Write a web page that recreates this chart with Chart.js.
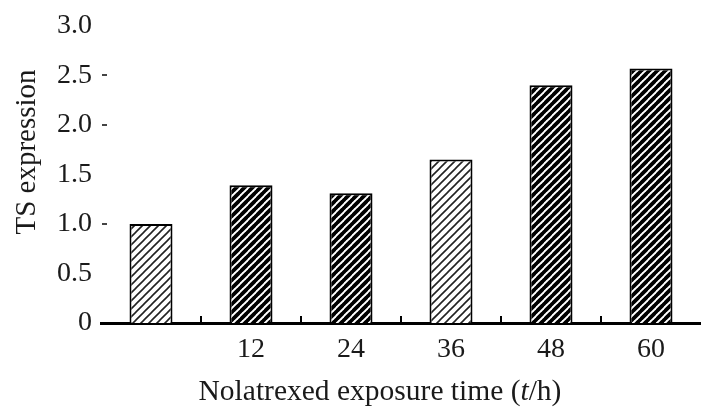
<!DOCTYPE html>
<html>
<head>
<meta charset="utf-8">
<script src="https://cdn.jsdelivr.net/npm/chart.js@4/dist/chart.umd.min.js"></script>
<style>
html, body { margin: 0; padding: 0; background: #fff; }
#wrap { width: 701px; height: 413px; position: relative; }
</style>
</head>
<body>
<div id="wrap"><canvas id="tsChart"></canvas></div>
<script>
// values
const hours = ['', '12', '24', '36', '48', '60'];
const tsExpression = [1.0, 1.39, 1.31, 1.65, 2.40, 2.57];
const hatchKind = ['light', 'dense', 'dense', 'light', 'dense', 'dense'];
const yMin = 0;
const yMax = 3.0;
const yStep = 0.5;
// the few y tick marks still visible in the original
const yDashTicks = [1.0, 2.0, 2.5];

const FONT = '"Liberation Serif", "Times New Roman", serif';

// diagonal hatching, "/" direction
function makeHatch(kind) {
    const size = 8;
    const c = document.createElement('canvas');
    c.width = size;
    c.height = size;
    const g = c.getContext('2d');
    g.fillStyle = '#fff';
    g.fillRect(0, 0, size, size);
    g.strokeStyle = kind === 'dense' ? '#000' : '#222';
    g.lineWidth = kind === 'dense' ? 3.8 : 1.6;
    g.beginPath();
    g.moveTo(-1, size + 1); g.lineTo(size + 1, -1);
    g.moveTo(-1, 1); g.lineTo(1, -1);
    g.moveTo(size - 1, size + 1); g.lineTo(size + 1, size - 1);
    g.stroke();
    return g.createPattern(c, 'repeat');
}

const extras = {
    id: 'extras',
    afterDraw(chart) {
        const ctx = chart.ctx;
        const x = chart.scales.x;
        const y = chart.scales.y;
        const area = chart.chartArea;
        ctx.save();
        // small upward ticks between the categories
        ctx.strokeStyle = '#000';
        ctx.lineWidth = 2;
        for (let i = 1; i < hours.length; i++) {
            const px = Math.round((x.getPixelForValue(i - 1) + x.getPixelForValue(i)) / 2);
            ctx.beginPath();
            ctx.moveTo(px, area.bottom);
            ctx.lineTo(px, area.bottom - 7);
            ctx.stroke();
        }
        ctx.strokeStyle = '#444';
        yDashTicks.forEach(v => {
            const py = Math.round(y.getPixelForValue(v));
            ctx.beginPath();
            ctx.moveTo(area.left + 1, py);
            ctx.lineTo(area.left + 6, py);
            ctx.stroke();
        });
        // axis titles
        ctx.fillStyle = '#1a1a1a';
        ctx.textBaseline = 'middle';
        const parts = [
            ['Nolatrexed exposure time (', 'normal'],
            ['t', 'italic'],
            ['/h)', 'normal']
        ];
        let total = 0;
        parts.forEach(p => {
            ctx.font = p[1] + ' 29.5px ' + FONT;
            total += ctx.measureText(p[0]).width;
        });
        let cx = 380 - total / 2;
        ctx.textAlign = 'left';
        parts.forEach(p => {
            ctx.font = p[1] + ' 29.5px ' + FONT;
            ctx.fillText(p[0], cx, 392);
            cx += ctx.measureText(p[0]).width;
        });
        ctx.translate(27, 152);
        ctx.rotate(-Math.PI / 2);
        ctx.textAlign = 'center';
        ctx.font = '29px ' + FONT;
        ctx.fillText('TS expression', 0, 0);
        ctx.restore();
    }
};

document.addEventListener('DOMContentLoaded', () => {
    const ctx = document.getElementById('tsChart');

    new Chart(ctx.getContext('2d'), {
        type: 'bar',
        data: {
            labels: hours,
            datasets: [{
                data: tsExpression,
                backgroundColor: hatchKind.map(makeHatch),
                borderColor: '#000',
                borderWidth: 2,
                barPercentage: 0.43,
                categoryPercentage: 1.0
            }]
        },
        plugins: [extras],
        options: {
            responsive: true,
            maintainAspectRatio: false,
            animation: false,
            layout: {
                padding: { left: 41, top: 13, right: 0, bottom: 0 }
            },
            plugins: {
                legend: { display: false },
                tooltip: { enabled: false }
            },
            scales: {
                x: {
                    grid: { display: false, drawTicks: false },
                    border: { display: true, color: '#000', width: 3 },
                    ticks: {
                        color: '#1a1a1a',
                        padding: 10,
                        maxRotation: 0,
                        font: { family: FONT, size: 28 }
                    },
                    afterFit: s => { s.height = 90; }
                },
                y: {
                    min: yMin,
                    max: yMax,
                    grid: { display: false, drawTicks: false },
                    border: { display: false },
                    ticks: {
                        stepSize: yStep,
                        color: '#1a1a1a',
                        padding: 9,
                        font: { family: FONT, size: 28 },
                        callback: v => (v === 0 ? '0' : v.toFixed(1))
                    },
                    afterFit: s => { s.width = 60; }
                }
            }
        }
    });
});
</script>
</body>
</html>
